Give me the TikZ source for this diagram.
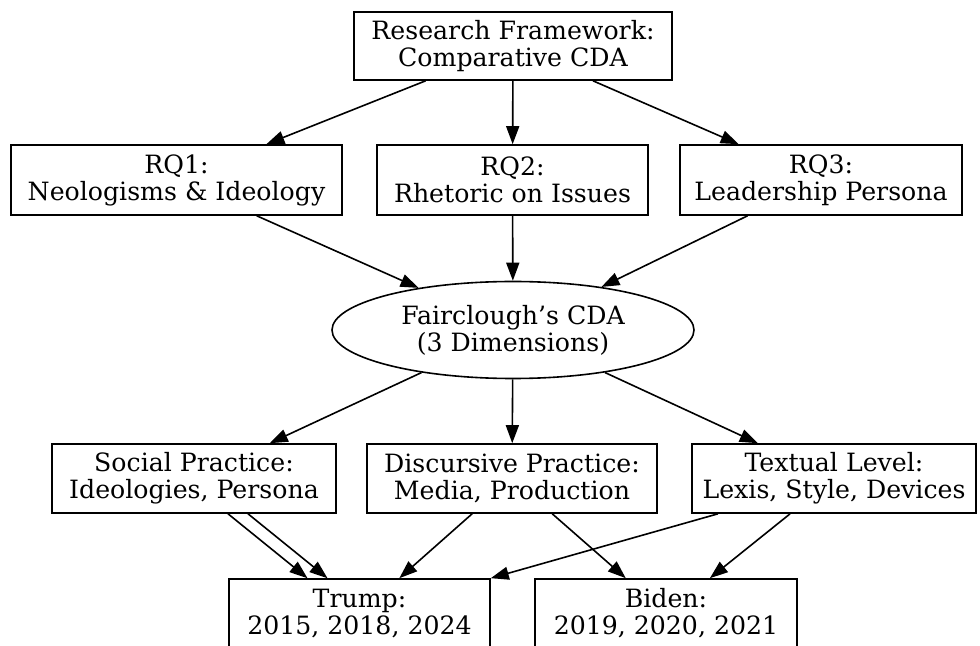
\documentclass[tikz,border=0pt]{standalone}
\usepackage{fontspec}
\setmainfont{DejaVu Serif}
\usetikzlibrary{arrows.meta,shapes.geometric}
\begin{document}
\begin{tikzpicture}
[x=0.5pt,y=-0.5pt,line width=0.8pt,
 box/.style={shape=rectangle,draw,align=center,inner sep=0pt,
   font=\fontsize{12.6}{13.5}\selectfont},
 oval/.style={box,shape=ellipse},
 arr/.style={-{Triangle[length=9pt,width=6.5pt]}}]
\useasboundingbox (0,0) rectangle (980,646);
\path (513,46) node (frame) [box,minimum width=159pt,minimum height=34pt] {Research Framework:\\Comparative CDA}
(176.5,180) node (rq1) [box,minimum width=165.5pt,minimum height=35pt] {RQ1:\\Neologisms \& Ideology}
(512.5,180) node (rq2) [box,minimum width=135.5pt,minimum height=35pt] {RQ2:\\Rhetoric on Issues}
(821,180) node (rq3) [box,minimum width=141pt,minimum height=35pt] {RQ3:\\Leadership Persona}
(513,330) node (cda) [oval,minimum width=181pt,minimum height=48.5pt] {Fairclough’s CDA\\(3 Dimensions)}
(194,478.5) node (social) [box,minimum width=142pt,minimum height=34.5pt] {Social Practice:\\Ideologies, Persona}
(512,478.5) node (discursive) [box,minimum width=145pt,minimum height=34.5pt] {Discursive Practice:\\Media, Production}
(834,478.5) node (textual) [box,minimum width=142pt,minimum height=34.5pt] {Textual Level:\\Lexis, Style, Devices}
(359.5,613.5) node (trump) [box,minimum width=130.5pt,minimum height=34.5pt] {Trump:\\2015, 2018, 2024}
(666,613.5) node (biden) [box,minimum width=131pt,minimum height=34.5pt] {Biden:\\2019, 2020, 2021};
\draw [arr] (frame) -- (rq1);
\draw [arr] (frame) -- (rq2);
\draw [arr] (frame) -- (rq3);
\draw [arr] (rq1) -- (cda);
\draw [arr] (rq2) -- (cda);
\draw [arr] (rq3) -- (cda);
\draw [arr] (cda) -- (social);
\draw [arr] (cda) -- (discursive);
\draw [arr] (cda) -- (textual);
\draw [arr] ([xshift=17pt]social.south) -- ([xshift=-26pt]trump.north);
\draw [arr] ([xshift=27pt]social.south) -- ([xshift=-16pt]trump.north);
\draw [arr] (discursive) -- (trump);
\draw [arr] (discursive) -- (biden);
\draw [arr] ([xshift=-58pt]textual.south) -- (trump.north east);
\draw [arr] (textual) -- (biden);
\end{tikzpicture}
\end{document}
